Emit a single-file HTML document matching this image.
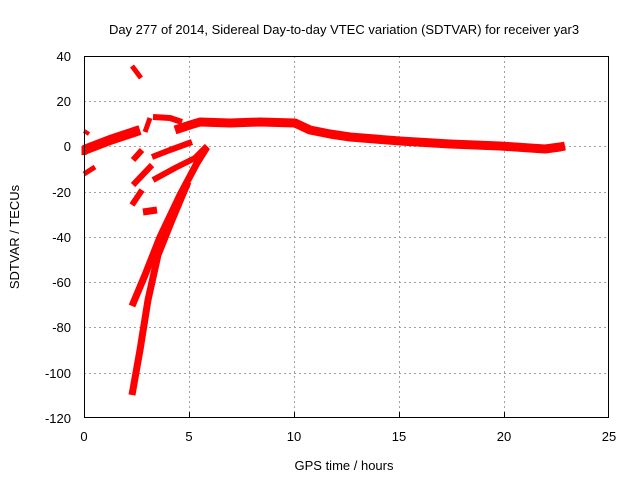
<!DOCTYPE html>
<html><head><style>body{margin:0;background:#fff}svg{display:block}text{font-family:"Liberation Sans",sans-serif;font-size:13px;fill:#000}</style></head><body>
<svg width="640" height="480" viewBox="0 0 640 480">
<g stroke="#a0a0a0" stroke-dasharray="2,3" stroke-width="1">
<line x1="84" y1="101.5" x2="609" y2="101.5"/><line x1="84" y1="146.5" x2="609" y2="146.5"/><line x1="84" y1="192.5" x2="609" y2="192.5"/><line x1="84" y1="237.5" x2="609" y2="237.5"/><line x1="84" y1="282.5" x2="609" y2="282.5"/><line x1="84" y1="327.5" x2="609" y2="327.5"/><line x1="84" y1="373.5" x2="609" y2="373.5"/>
<line x1="189.5" y1="56" x2="189.5" y2="418"/><line x1="294.5" y1="56" x2="294.5" y2="418"/><line x1="399.5" y1="56" x2="399.5" y2="418"/><line x1="504.5" y1="56" x2="504.5" y2="418"/>
</g>
<g fill="none" stroke="#f00" stroke-linecap="butt" stroke-linejoin="round">
<polyline stroke-width="10" points="84,150 110,140 140,130"/>
<polyline stroke-width="5" points="84,146 84,155"/>
<polyline stroke-width="5" points="132,66 141,78"/>
<polyline stroke-width="6" points="153,117 170,118 182,122"/>
<polyline stroke-width="9" points="175,130 190,125 200,122 230,123 260,122 295,123 310,130 330,134 350,137 400,141 450,144 500,146 530,148 545,149 560,147 565,146"/>
<polyline stroke-width="6" points="152,157 170,150 192,142"/>
<polyline stroke-width="6" points="153,180 175,168 195,158 207,146"/>
<polyline stroke-width="7" points="132,306 145,275 160,237 180,195 197,163 207,147"/>
<polyline stroke-width="7" points="132,395 140,350 148,300 158,255 172,220 188,182"/>
<polyline stroke-width="6" points="132,205 142,190"/>
<polyline stroke-width="7" points="143,212 157,210"/>
<polyline stroke-width="6" points="133,185 152,165"/>
<polyline stroke-width="6" points="133,160 142,150"/>
<polyline stroke-width="5" points="84,174 95,167"/>
<polyline stroke-width="4" points="84,131 89,134"/>
<polyline stroke-width="5" points="145,132 150,118"/>
</g>
<rect x="84.5" y="56.5" width="524" height="361" fill="none" stroke="#000"/>
<g stroke="#000"><line x1="189.5" y1="418" x2="189.5" y2="412"/><line x1="294.5" y1="418" x2="294.5" y2="412"/><line x1="399.5" y1="418" x2="399.5" y2="412"/><line x1="504.5" y1="418" x2="504.5" y2="412"/></g>
<g text-anchor="end">
<text x="71" y="61">40</text><text x="71" y="106">20</text><text x="71" y="151">0</text><text x="71" y="197">-20</text><text x="71" y="242">-40</text><text x="71" y="287">-60</text><text x="71" y="332">-80</text><text x="71" y="378">-100</text><text x="71" y="423">-120</text>
</g>
<g text-anchor="middle">
<text x="84" y="441">0</text><text x="189" y="441">5</text><text x="294" y="441">10</text><text x="399" y="441">15</text><text x="504" y="441">20</text><text x="609" y="441">25</text>
<text x="344" y="470">GPS time / hours</text>
<text x="344" y="34">Day 277 of 2014, Sidereal Day-to-day VTEC variation (SDTVAR) for receiver yar3</text>
<text transform="translate(19,237) rotate(-90)">SDTVAR / TECUs</text>
</g>
</svg>
</body></html>
